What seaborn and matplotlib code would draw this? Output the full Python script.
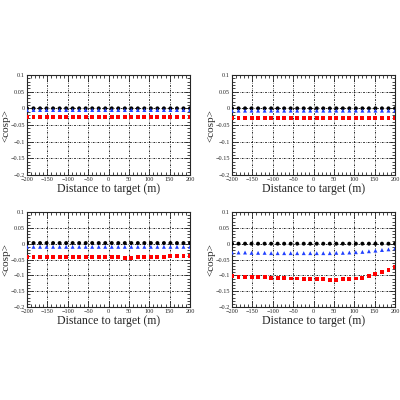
import numpy as np
import pandas as pd
import seaborn as sns
from matplotlib import pyplot as plt
from matplotlib.ticker import MultipleLocator, FixedLocator

# distance to target (m)
distance = [-200, -184, -168, -152, -136, -120, -104, -88, -72, -56, -40, -24, -8,
            8, 24, 40, 56, 72, 88, 104, 120, 136, 152, 168, 184, 200]

# <cos> for each panel, three series each
tl_black = [0.000] * 26
tl_blue = [-0.005] * 26
tl_red = [-0.025] * 26

tr_black = [0.000] * 26
tr_blue = [-0.007] * 26
tr_red = [-0.030] * 26

bl_black = [0.002] * 26
bl_blue = [-0.010] * 26
bl_red = [-0.043, -0.043, -0.043, -0.043, -0.043, -0.043, -0.043, -0.043, -0.043,
          -0.043, -0.043, -0.043, -0.043, -0.043, -0.043, -0.044, -0.044, -0.043,
          -0.043, -0.042, -0.042, -0.041, -0.040, -0.040, -0.039, -0.038]

br_black = [0.000] * 26
br_blue = [-0.028, -0.028, -0.028, -0.029, -0.029, -0.029, -0.030, -0.030, -0.030,
           -0.030, -0.030, -0.030, -0.030, -0.030, -0.030, -0.030, -0.029, -0.029,
           -0.028, -0.027, -0.026, -0.024, -0.022, -0.020, -0.018, -0.015]
br_red = [-0.103, -0.104, -0.104, -0.105, -0.105, -0.106, -0.107, -0.108, -0.109,
          -0.110, -0.110, -0.111, -0.112, -0.113, -0.113, -0.114, -0.114, -0.113,
          -0.112, -0.110, -0.107, -0.103, -0.097, -0.090, -0.082, -0.073]

panels = [
    (tl_black, tl_blue, tl_red),
    (tr_black, tr_blue, tr_red),
    (bl_black, bl_blue, bl_red),
    (br_black, br_blue, br_red),
]

yticks = [-0.2, -0.15, -0.1, -0.05, 0, 0.05, 0.1]
ytick_labels = ['\u22120.2', '\u22120.15', '\u22120.1', '\u22120.05', '0', '0.05', '0.1']
xticks = [-200, -150, -100, -50, 0, 50, 100, 150, 200]
xtick_labels = ['\u2212200', '\u2212150', '\u2212100', '\u221250', '0', '50', '100', '150', '200']

sns.set_style('ticks')
plt.rcParams['font.family'] = ['Liberation Serif', 'DejaVu Serif']

fig = plt.figure(figsize=(4, 4), dpi=100)
rects = [
    [0.0675, 0.5625, 0.4075, 0.25],
    [0.58, 0.5625, 0.4075, 0.25],
    [0.0675, 0.2325, 0.4075, 0.2375],
    [0.58, 0.2325, 0.4075, 0.2375],
]

for rect, (black, blue, red) in zip(rects, panels):
    ax = fig.add_axes(rect)
    df = pd.DataFrame({
        'distance': distance * 3,
        'cos': black + blue + red,
        'series': ['black'] * 26 + ['blue'] * 26 + ['red'] * 26,
    })
    sns.scatterplot(data=df, x='distance', y='cos', hue='series', style='series',
                    palette={'black': 'black', 'blue': '#1f3fff', 'red': '#ff0000'},
                    markers={'black': 'o', 'blue': '^', 'red': 's'},
                    s=8, linewidth=0, legend=False, ax=ax, zorder=3)
    ax.set_xlim(-200, 200)
    ax.set_ylim(-0.2, 0.1)
    ax.xaxis.set_major_locator(FixedLocator(xticks))
    ax.yaxis.set_major_locator(FixedLocator(yticks))
    ax.set_xticklabels(xtick_labels)
    ax.set_yticklabels(ytick_labels)
    ax.xaxis.set_minor_locator(MultipleLocator(10))
    ax.yaxis.set_minor_locator(MultipleLocator(0.01))
    ax.tick_params(which='both', direction='in', top=True, right=True,
                   labelsize=4.5, pad=1.5, width=0.6)
    ax.tick_params(which='major', length=4)
    ax.tick_params(which='minor', length=2)
    ax.grid(True, which='major', color='black', linestyle=(0, (2, 1.5, 0.6, 1.5)),
            linewidth=0.6)
    for sp in ax.spines.values():
        sp.set_linewidth(0.8)
    ax.set_xlabel('Distance to target (m)', fontsize=8.5, labelpad=1)
    ax.set_ylabel('<cosp>', fontsize=8, labelpad=0)

fig.savefig('out.png', dpi=100)
